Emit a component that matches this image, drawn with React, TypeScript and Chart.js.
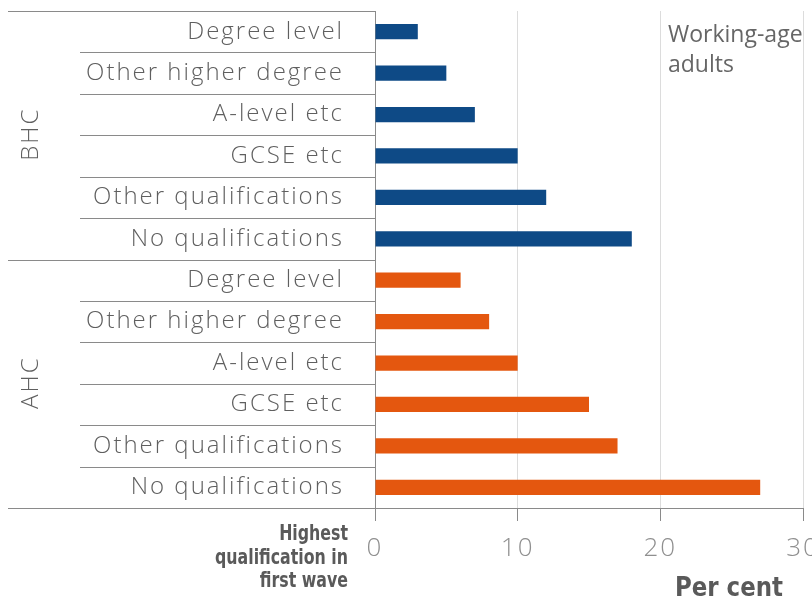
import React, { useEffect, useRef } from "react";
import { Chart, registerables } from "chart.js";

Chart.register(...registerables);

const groups = ["BHC", "AHC"];
const qualifications = [
  "Degree level",
  "Other higher degree",
  "A-level etc",
  "GCSE etc",
  "Other qualifications",
  "No qualifications",
];
const bhcValues = [3, 5, 7, 10, 12, 18];
const ahcValues = [6, 8, 10, 15, 17, 27];
const xMin = 0;
const xMax = 30;
const xStep = 10;
const noteLines = ["Working-age", "adults"];
const axisTitleLines = ["Highest", "qualification in", "first wave"];
const valueAxisTitle = "Per cent";

const BLUE = "#0e4a86";
const ORANGE = "#e4570f";
const LINE = "#8a8a8a";
const TEXT = "#5f5f5f";
const BOLD_FONT = "'Liberation Sans Narrow', 'DejaVu Sans Condensed', sans-serif";

const spacingPlugin = {
  id: "spacing",
  beforeDraw(chart: any) {
    (chart.ctx as any).letterSpacing = "2px";
  },
  beforeDatasetsDraw(chart: any) {
    (chart.ctx as any).letterSpacing = "0px";
  },
};

function drawCondensed(ctx: any, text: string, x: number, y: number, sx: number, align: "left" | "right") {
  ctx.save();
  ctx.translate(x, y);
  ctx.scale(sx, 1);
  ctx.textAlign = align;
  ctx.fillText(text, 0, 0);
  ctx.restore();
}

const decorPlugin = {
  id: "decor",
  afterDraw(chart: any) {
    const { ctx, chartArea } = chart;
    const ys = chart.scales.y;
    const n = qualifications.length * groups.length;
    const bounds: number[] = [];
    for (let i = 0; i <= n; i++) {
      let py: number;
      if (i === 0) py = chartArea.top;
      else if (i === n) py = chartArea.bottom;
      else py = (ys.getPixelForValue(i - 1) + ys.getPixelForValue(i)) / 2;
      bounds.push(py);
    }
    ctx.save();
    (ctx as any).letterSpacing = "0px";
    ctx.strokeStyle = LINE;
    ctx.lineWidth = 1;
    bounds.forEach((py, i) => {
      const isGroup = i % qualifications.length === 0;
      const x0 = isGroup ? 8 : 80;
      const yy = Math.round(py) + 0.5;
      ctx.beginPath();
      ctx.moveTo(x0, yy);
      ctx.lineTo(chartArea.left, yy);
      ctx.stroke();
    });
    // group labels
    ctx.fillStyle = TEXT;
    ctx.font = "300 24px 'Open Sans'";
    (ctx as any).letterSpacing = "2px";
    ctx.textAlign = "center";
    ctx.textBaseline = "middle";
    groups.forEach((g, gi) => {
      const top = bounds[gi * qualifications.length];
      const bot = bounds[(gi + 1) * qualifications.length];
      ctx.save();
      ctx.translate(31, (top + bot) / 2);
      ctx.rotate(-Math.PI / 2);
      ctx.fillText(g, 1, 0);
      ctx.restore();
    });
    (ctx as any).letterSpacing = "0px";
    // note
    ctx.font = "23px 'Open Sans'";
    ctx.fillStyle = "#666666";
    ctx.textAlign = "left";
    ctx.textBaseline = "alphabetic";
    noteLines.forEach((t, i) => ctx.fillText(t, 668, 42 + i * 30));
    // category axis title
    ctx.fillStyle = "#5a5a5a";
    ctx.font = "bold 21px " + BOLD_FONT;
    const widest = Math.max(...axisTitleLines.map((t) => ctx.measureText(t).width));
    const sx1 = 133 / widest;
    axisTitleLines.forEach((t, i) => drawCondensed(ctx, t, 348, 540 + i * 23.5, sx1, "right"));
    // value axis title
    ctx.font = "bold 26px " + BOLD_FONT;
    const sx2 = 108 / ctx.measureText(valueAxisTitle).width;
    drawCondensed(ctx, valueAxisTitle, 675, 596, sx2, "left");
    ctx.restore();
  },
};

export default function App() {
  const ref = useRef<HTMLCanvasElement | null>(null);
  useEffect(() => {
    if (!ref.current) return;
    const labels = [...qualifications, ...qualifications];
    const data = [...bhcValues, ...ahcValues];
    const colors = [
      ...bhcValues.map(() => BLUE),
      ...ahcValues.map(() => ORANGE),
    ];
    const chart = new Chart(ref.current, {
      type: "bar",
      data: {
        labels,
        datasets: [
          {
            data,
            backgroundColor: colors,
            barPercentage: 0.37,
            categoryPercentage: 1,
          },
        ],
      },
      options: {
        indexAxis: "y",
        animation: false,
        responsive: false,
        maintainAspectRatio: false,
        layout: { padding: { top: 11, right: 27, left: 0, bottom: 0 } },
        plugins: { legend: { display: false }, tooltip: { enabled: false } },
        scales: {
          y: {
            type: "category",
            offset: true,
            grid: { display: false, drawTicks: false },
            border: { display: true, color: LINE, width: 1 },
            ticks: {
              autoSkip: false,
              padding: 31,
              color: TEXT,
              font: { family: "'Open Sans'", size: 24, weight: "300" as any },
            },
            afterFit: (s: any) => {
              s.width = 375;
              s.paddingTop = 0;
              s.paddingBottom = 0;
            },
          },
          x: {
            min: xMin,
            max: xMax,
            ticks: {
              stepSize: xStep,
              color: "#8f8f8f",
              padding: 12,
              font: { family: "'Open Sans'", size: 26, weight: "300" as any },
            },
            grid: {
              color: (c: any) => (c.tick && c.tick.value === 0 ? "rgba(0,0,0,0)" : "#dcdcdc"),
              tickColor: LINE,
              tickLength: 13,
              lineWidth: 1,
            },
            border: { display: true, color: LINE, width: 1 },
            afterFit: (s: any) => {
              s.height = 90;
              s.paddingLeft = 0;
              s.paddingRight = 0;
            },
          },
        },
      },
      plugins: [spacingPlugin, decorPlugin],
    });
    return () => chart.destroy();
  }, []);
  return (
    <div
      style={{
        position: "fixed",
        left: 0,
        top: 0,
        width: 812,
        height: 598,
        overflow: "hidden",
        background: "#ffffff",
      }}
    >
      <canvas ref={ref} width={830} height={598} style={{ width: 830, height: 598, display: "block" }} />
    </div>
  );
}
